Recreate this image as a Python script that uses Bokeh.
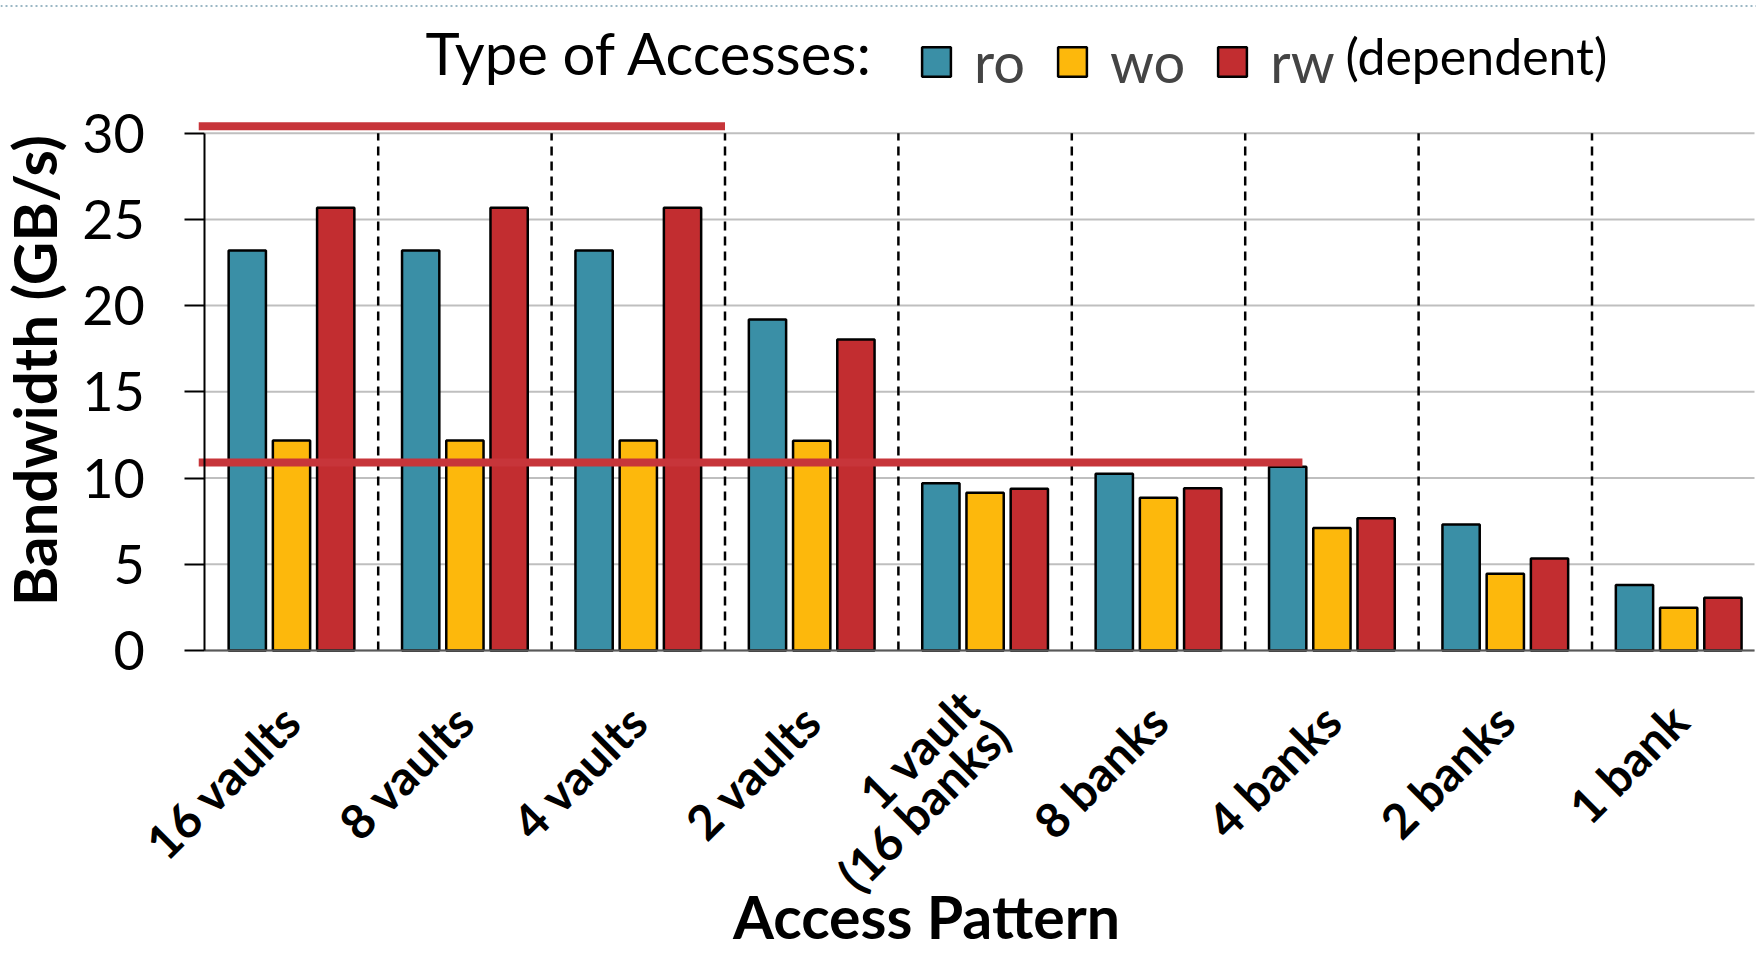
import numpy as np
from bokeh.plotting import figure
from bokeh.models import Range1d, FixedTicker, Legend, LegendItem, Label, Span
from bokeh.embed import file_html
from bokeh.resources import INLINE

# ---------------- data ----------------
categories = ["16 vaults", "8 vaults", "4 vaults", "2 vaults", "1 vault\n(16 banks)",
              "8 banks", "4 banks", "2 banks", "1 bank"]
series_names = ["ro", "wo", "rw"]
ro = [23.2, 23.2, 23.2, 19.2, 9.7, 10.25, 10.65, 7.3, 3.8]
wo = [12.17, 12.17, 12.17, 12.16, 9.14, 8.85, 7.1, 4.44, 2.47]
rw = [25.67, 25.67, 25.67, 18.03, 9.37, 9.41, 7.67, 5.33, 3.05]
y_ticks = [0, 5, 10, 15, 20, 25, 30]
# peak-bandwidth reference lines (value, extent in category units)
limit_values = [30.4, 10.9]
limit_start = [-0.035, -0.035]
limit_end = [3.0, 6.33]

# ---------------- style / layout ----------------
colors = ["#3A8FA6", "#FDB80C", "#C22D30"]
limit_color = "#C7353A"
FONT = "Lato"

n = len(categories)
W, H = 1756, 954          # canvas size (frame fills the whole canvas)
x0_px, y0_px = 204.3, 649.9   # pixel position of the data origin
cat_px = 173.4            # pixels per category
unit_px = 17.24           # pixels per GB/s

x_end = (W - 2 - x0_px) / cat_px
y_end = y0_px / unit_px
y_start = -(H - y0_px) / unit_px

p = figure(frame_width=W, frame_height=H,
           x_range=Range1d(-x0_px / cat_px, (W - x0_px) / cat_px),
           y_range=Range1d(y_start, y_end),
           output_backend="svg", toolbar_location=None,
           min_border_left=0, min_border_right=0, min_border_top=0, min_border_bottom=0)
p.outline_line_color = None
p.background_fill_color = "white"
p.border_fill_color = "white"
p.xgrid.visible = False
p.ygrid.visible = False

# horizontal grid lines
p.segment(x0=0, y0=y_ticks, x1=x_end, y1=y_ticks, line_color="#BFBFBF", line_width=2)

# separators between categories
sep_x = np.arange(1, n)
p.segment(x0=sep_x, y0=0, x1=sep_x, y1=y_ticks[-1], line_color="black",
          line_width=2.5, line_dash="9 6")

# bars
x = np.arange(n) + 0.5
offsets = [-0.255, 0.0, 0.255]
renderers = []
for vals, off, c in zip([ro, wo, rw], offsets, colors):
    r = p.vbar(x=x + off, top=vals, width=0.215, bottom=0, fill_color=c,
               line_color="black", line_width=2.5)
    renderers.append(r)

# limit lines
p.segment(x0=limit_start, y0=limit_values, x1=limit_end, y1=limit_values,
          line_color=limit_color, line_width=8)

# axes (drawn at data origin, inside the frame)
yax = p.yaxis[0]
yax.fixed_location = 0
yax.ticker = FixedTicker(ticks=y_ticks)
yax.bounds = (y_ticks[0], y_ticks[-1])
yax.major_tick_out = 20
yax.major_tick_in = 0
yax.minor_tick_out = 0
yax.minor_tick_in = 0
yax.major_tick_line_color = "black"
yax.major_tick_line_width = 2
yax.axis_line_color = "black"
yax.axis_line_width = 2
yax.major_label_text_font = FONT
yax.major_label_text_font_size = "54px"
yax.major_label_text_color = "black"
yax.major_label_standoff = 40

xax = p.xaxis[0]
xax.fixed_location = 0
xax.bounds = (0, x_end)
xax.ticker = FixedTicker(ticks=list(x))
xax.major_label_overrides = {float(v): c for v, c in zip(x, categories)}
xax.major_label_orientation = np.pi / 4
xax.major_tick_out = 0
xax.major_tick_in = 0
xax.minor_tick_out = 0
xax.minor_tick_in = 0
xax.axis_line_color = "#595959"
xax.axis_line_width = 2
xax.major_label_text_font = FONT
xax.major_label_text_font_style = "bold"
xax.major_label_text_font_size = "48px"
xax.major_label_text_line_height = 0.75
xax.major_label_text_color = "black"
xax.major_label_standoff = 62

# legend
legend = Legend(items=[LegendItem(label=nm, renderers=[r]) for nm, r in zip(series_names, renderers)],
                orientation="horizontal", location=(918, 859),
                glyph_width=36, glyph_height=37, label_standoff=20, spacing=29,
                padding=0, margin=0, border_line_color=None, background_fill_alpha=0,
                label_text_font=FONT, label_text_font_size="56px")
p.add_layout(legend, "center")

def add_text(text, sx, sy, size, bold=False, align="left", angle=0.0):
    p.add_layout(Label(x=sx, y=sy, x_units="screen", y_units="screen", text=text,
                       angle=angle, text_font=FONT, text_font_size=size,
                       text_font_style="bold" if bold else "normal",
                       text_align=align, text_baseline="middle", text_color="black"))

add_text("Type of Accesses:", 425, 902, "58px")
add_text("(dependent)", 1345, 899, "50px")
add_text("Access Pattern", 926, 38, "59px", bold=True, align="center")
add_text("Bandwidth (GB/s)", 33, 584, "60px", bold=True, align="center", angle=np.pi / 2)

p.add_layout(Span(location=(y0_px - 5.6) / unit_px, dimension="width", line_color="#9BB7C4",
                  line_dash="2 3", line_width=2))

open("out.html", "w").write(file_html(p, INLINE))
